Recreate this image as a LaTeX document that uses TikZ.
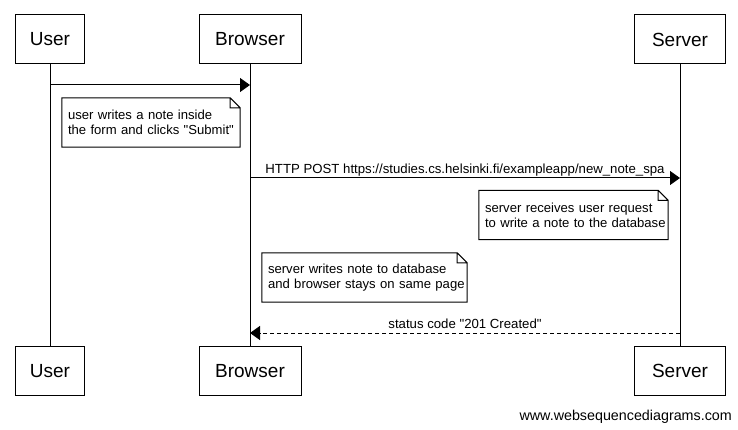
\documentclass[tikz,border=0pt]{standalone}
\usepackage{fontspec}
\setmainfont{Liberation Sans}
\usetikzlibrary{arrows.meta}

\tikzset{
  actor/.style={draw, line width=1pt, minimum height=49pt, inner sep=0pt, font=\fontsize{19}{22}\selectfont},
  life/.style={line width=1pt},
  msg/.style={line width=1pt, -{Triangle[length=10pt,width=14pt]}},
  reply/.style={msg, dash pattern=on 4pt off 3pt},
  msglabel/.style={anchor=base, yshift=4.5pt, inner sep=0pt, font=\fontsize{13.2}{15}\selectfont},
  notebox/.style={align=left, inner xsep=6pt, inner ysep=0pt, minimum height=49pt, font=\fontsize{13.1}{15}\selectfont}
}

\begin{document}
\begin{tikzpicture}[x=1pt,y=-1pt]
\useasboundingbox (0,0) rectangle (738,430);
% participants
\node[actor, minimum width=69pt] (usertop) at (50,39.5) {User};
\node[actor, minimum width=102pt] (browsertop) at (250,39.5) {Browser};
\node[actor, minimum width=91pt] (servertop) at (680,39.5) {Server};
\node[actor, minimum width=69pt] (userbot) at (50,371) {User};
\node[actor, minimum width=102pt] (browserbot) at (250,371) {Browser};
\node[actor, minimum width=91pt] (serverbot) at (680,371) {Server};
% lifelines
\draw[life] (usertop) -- (userbot);
\draw[life] (browsertop) -- (browserbot);
\draw[life] (servertop) -- (serverbot);
% message rows
\coordinate (u1) at (50,85);
\coordinate (b1) at (250,85);
\coordinate (b2) at (250,178);
\coordinate (s2) at (680,178);
\coordinate (s3) at (680,333);
\coordinate (b3) at (250,333);
\draw[msg] (u1) -- (b1);
\draw[msg] (b2) -- node[msglabel] {HTTP POST https://studies.cs.helsinki.fi/exampleapp/new\_note\_spa} (s2);
\draw[reply] (s3) -- node[msglabel] {status code \textquotedbl 201 Created\textquotedbl} (b3);
% notes
\node[notebox, text width=166pt] (note1) at (151,122.5) {\mbox{user writes a note inside}\\\mbox{the form and clicks \textquotedbl Submit\textquotedbl}};
\node[notebox, text width=177pt] (note2) at (573.5,215) {\mbox{server receives user request}\\\mbox{to write a note to the database}};
\node[notebox, text width=193pt] (note3) at (364.5,277.5) {\mbox{server writes note to database}\\\mbox{and browser stays on same page}};
\foreach \n in {note1,note2,note3}
  \draw[line width=1pt] (\n.south west) -- (\n.north west) -- ([xshift=-10pt]\n.north east)
    -- ([yshift=-10pt]\n.north east) -- (\n.south east) -- cycle
    ([xshift=-10pt]\n.north east) |- ([yshift=-10pt]\n.north east);
\node[anchor=base east, inner sep=0pt, font=\fontsize{14.3}{16}\selectfont] (credit) at (732,420) {www.websequencediagrams.com};
\end{tikzpicture}
\end{document}
